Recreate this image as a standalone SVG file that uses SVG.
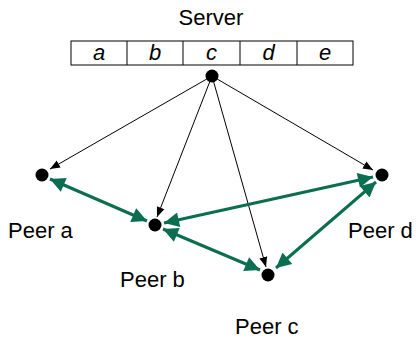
<svg xmlns="http://www.w3.org/2000/svg" width="416" height="338" viewBox="0 0 416 338">
<defs>
<style>
.t{font-family:"Liberation Sans",Arial,sans-serif;font-size:22px;fill:#000}
.c{font-family:"Liberation Sans",Arial,sans-serif;font-size:22px;font-style:italic;fill:#000;text-anchor:middle}
.k{stroke:#000;stroke-width:1;fill:none;marker-end:url(#ak)}
.g{stroke:#0B6E4F;stroke-width:3;fill:none;marker-start:url(#ag);marker-end:url(#ag)}
.d{fill:#000}
</style>
<marker id="ak" viewBox="0 0 10 10" refX="10" refY="5" markerWidth="10" markerHeight="10" markerUnits="userSpaceOnUse" orient="auto-start-reverse"><path d="M0,1 L10,5 L0,9 Z" fill="#000"/></marker>
<marker id="ag" viewBox="0 0 10 10" refX="10" refY="5" markerWidth="6" markerHeight="5" orient="auto-start-reverse"><path d="M0,0 L10,5 L0,10 Z" fill="#0B6E4F"/></marker>
</defs>
<g id="server">
<text class="t" x="211" y="25" text-anchor="middle">Server</text>
<rect x="71" y="41" width="282" height="24" fill="#fff" stroke="#000" stroke-width="1"/>
<line x1="127" y1="41" x2="127" y2="65" stroke="#000"/>
<line x1="183" y1="41" x2="183" y2="65" stroke="#000"/>
<line x1="240" y1="41" x2="240" y2="65" stroke="#000"/>
<line x1="297" y1="41" x2="297" y2="65" stroke="#000"/>
<text class="c" x="99" y="60">a</text>
<text class="c" x="155" y="60">b</text>
<text class="c" x="211.5" y="60">c</text>
<text class="c" x="268.5" y="60">d</text>
<text class="c" x="325" y="60">e</text>
<circle class="d" cx="212" cy="76" r="6.5"/>
</g>
<g id="peer-a"><circle class="d" cx="42" cy="175" r="6.5"/><text class="t" x="8" y="238">Peer a</text></g>
<g id="peer-b"><circle class="d" cx="155" cy="225" r="6.5"/><text class="t" x="120" y="287">Peer b</text></g>
<g id="peer-c"><circle class="d" cx="268" cy="275" r="6.5"/><text class="t" x="235" y="334">Peer c</text></g>
<g id="peer-d"><circle class="d" cx="382" cy="175" r="6.5"/><text class="t" x="348" y="238">Peer d</text></g>
<g id="connectors">
<line class="k" x1="212" y1="76" x2="50" y2="169"/>
<line class="k" x1="212" y1="76" x2="157" y2="217"/>
<line class="k" x1="212" y1="76" x2="266" y2="267"/>
<line class="k" x1="212" y1="76" x2="373" y2="170"/>
<line class="g" x1="50" y1="179" x2="147" y2="221"/>
<line class="g" x1="164" y1="223" x2="373" y2="177"/>
<line class="g" x1="163" y1="229" x2="260" y2="270"/>
<line class="g" x1="276" y1="268" x2="376" y2="182"/>
</g>
</svg>
